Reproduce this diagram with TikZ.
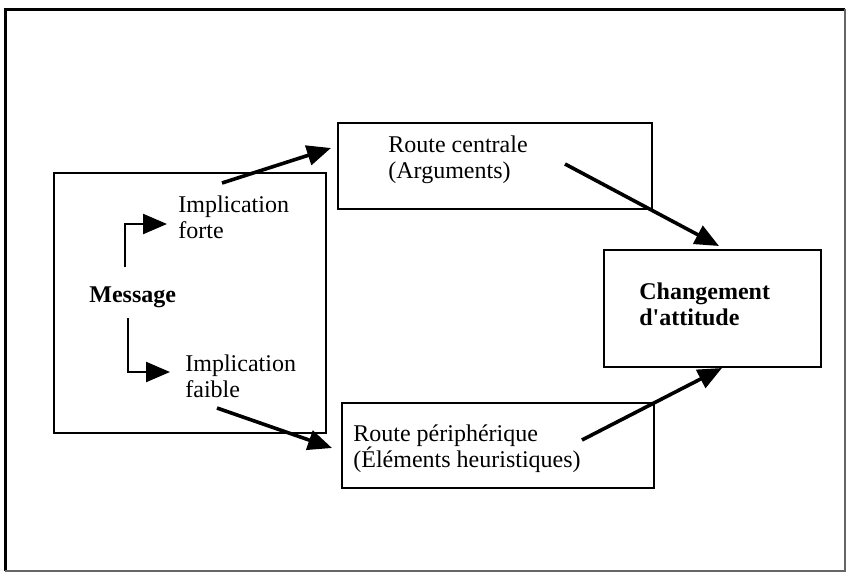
\documentclass[tikz,border=0pt]{standalone}
\usepackage{fontspec}
\setmainfont{Liberation Serif}[Ligatures=TeXOff]
\usetikzlibrary{arrows.meta}
\begin{document}
\begin{tikzpicture}[x=0.5pt,y=-0.5pt,
  box/.style={draw, line width=1pt, inner sep=0pt, anchor=north west},
  lbl/.style={inner sep=0pt, anchor=base west, align=left, font=\fontsize{12}{13}\selectfont},
  blbl/.style={inner sep=0pt, anchor=base west, align=left, font=\fontsize{12}{13}\selectfont\bfseries},
  arr/.style={line width=1.8pt, -{Triangle[length=12pt,width=10pt]}},
  elb/.style={line width=1.2pt, -{Triangle[length=12pt,width=10pt]}}]
\useasboundingbox (0,0) rectangle (847,574);
% outer frame
\draw[line width=1.5pt] (5,571) -- (5,9) -- (845,9);
\draw[line width=0.6pt, black!60] (845,9) -- (845,571) -- (5,571);
% boxes
\node[box, minimum width=136pt, minimum height=130pt] (left) at (53,172) {};
\node[box, minimum width=157pt, minimum height=43pt] (central) at (337,122) {};
\node[box, minimum width=156pt, minimum height=42.5pt] (periph) at (341,402) {};
\node[box, minimum width=108.5pt, minimum height=58.5pt] (change) at (603,249) {};
% labels (base = baseline of the last line)
\node[blbl] (msg) at (89,302) {Message};
\node[lbl] (forte) at (178,238) {Implication\\forte};
\node[lbl] (faible) at (185,397) {Implication\\faible};
\node[lbl] (rc) at (388,178) {Route centrale\\(Arguments)};
\node[lbl] (rp) at (353,467) {Route périphérique\\(Éléments heuristiques)};
\node[blbl] (chg) at (639,325) {Changement\\d'attitude};
% connector ends
\coordinate (e1s) at (125,267);
\coordinate (e1e) at (167,224);
\coordinate (e2s) at (128,318);
\coordinate (e2e) at (170,372);
\coordinate (a1s) at (222,183);
\coordinate (a1e) at (331,148);
\coordinate (a2s) at (217,408);
\coordinate (a2e) at (332,448);
\coordinate (a3s) at (565,164);
\coordinate (a3e) at (719,246);
\coordinate (a4s) at (582,440);
\coordinate (a4e) at (722,368);
% connectors
\draw[elb] (e1s) |- (e1e);
\draw[elb] (e2s) |- (e2e);
\draw[arr] (a1s) -- (a1e);
\draw[arr] (a2s) -- (a2e);
\draw[arr] (a3s) -- (a3e);
\draw[arr] (a4s) -- (a4e);
\end{tikzpicture}
\end{document}
